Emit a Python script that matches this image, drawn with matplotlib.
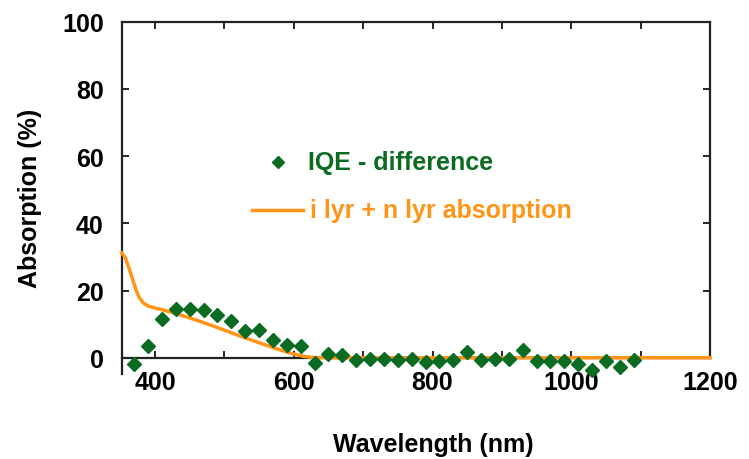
import matplotlib.pyplot as plt

# IQE difference points (green diamonds)
iqe_nm = [370, 390, 410, 430, 450, 470, 490, 510, 530, 550, 570, 590, 610, 630,
          650, 670, 690, 710, 730, 750, 770, 790, 810, 830, 850, 870, 890, 910,
          930, 950, 970, 990, 1010, 1030, 1050, 1070, 1090]
iqe_diff = [-1.8, 3.5, 11.4, 14.5, 14.5, 14.3, 12.6, 11.0, 8.1, 8.4, 5.4, 3.7, 3.5, -1.6,
            1.0, 0.7, -0.8, -0.3, -0.3, -0.8, -0.5, -1.2, -1.1, -0.8, 1.7, -0.7, -0.5, -0.5,
            2.2, -1.1, -1.1, -1.1, -1.8, -3.5, -1.1, -2.6, -0.8]

# i layer + n layer absorption (orange line)
abs_nm = [352, 357, 362, 367, 372, 377, 383, 390, 398, 410, 431, 455, 479, 503,
          527, 551, 575, 590, 604, 615, 623, 633, 642, 700, 800, 1000, 1200]
abs_val = [31.2, 29.8, 27.0, 23.8, 20.6, 18.0, 16.3, 15.4, 14.9, 14.3, 13.1, 11.5, 9.8, 8.0,
           6.1, 4.4, 2.7, 1.7, 0.9, 0.4, 0.2, 0.05, 0.0, 0.0, 0.0, 0.0, 0.0]

green = '#0b6b21'
orange = '#ff9416'

plt.rcParams['font.family'] = ['Liberation Sans', 'DejaVu Sans']
plt.rcParams['font.weight'] = 'bold'

fig = plt.figure(figsize=(7.49, 4.6), dpi=100)
ax = fig.add_axes([0.1625, 0.185, 0.7855, 0.766])

ax.plot(abs_nm, abs_val, color=orange, lw=2.5, zorder=3, clip_on=False)
ax.plot(iqe_nm, iqe_diff, linestyle='none', marker='D', ms=7, color=green, zorder=4, clip_on=False)

ax.set_xlim(352, 1200)
ax.set_ylim(-4.8, 100)

# x axis sits on y = 0
ax.spines['bottom'].set_position(('data', 0))
ax.spines['right'].set_bounds(0, 100)
for s in ax.spines.values():
    s.set_linewidth(1.6)
    s.set_color('#222222')

ax.set_xticks([400, 500, 600, 700, 800, 900, 1000, 1100, 1200])
ax.set_xticklabels(['400', '', '600', '', '800', '', '1000', '', '1200'])
ax.set_yticks([0, 20, 40, 60, 80, 100])
ax.tick_params(axis='both', direction='in', length=5, width=1.2, labelsize=18,
               top=True, right=True)
ax.tick_params(axis='y', pad=13)
ax.tick_params(axis='x', pad=9)

fig.text(433 / 749, 1 - 445 / 460, 'Wavelength (nm)', fontsize=18, fontweight='bold',
         ha='center', va='center')
ax.set_ylabel('Absorption (%)', fontsize=18, fontweight='bold', labelpad=14)

# in-plot legend
ax.plot([577], [58.2], marker='D', ms=6, color=green, clip_on=False)
ax.text(620, 58.2, 'IQE - difference', color=green, fontsize=18, fontweight='bold',
        va='center', ha='left')
ax.plot([540, 613], [43.9, 43.9], color=orange, lw=2.5)
ax.text(623, 43.9, 'i lyr + n lyr absorption', color=orange, fontsize=18,
        fontweight='bold', va='center', ha='left')

fig.savefig('out.png', dpi=100)
